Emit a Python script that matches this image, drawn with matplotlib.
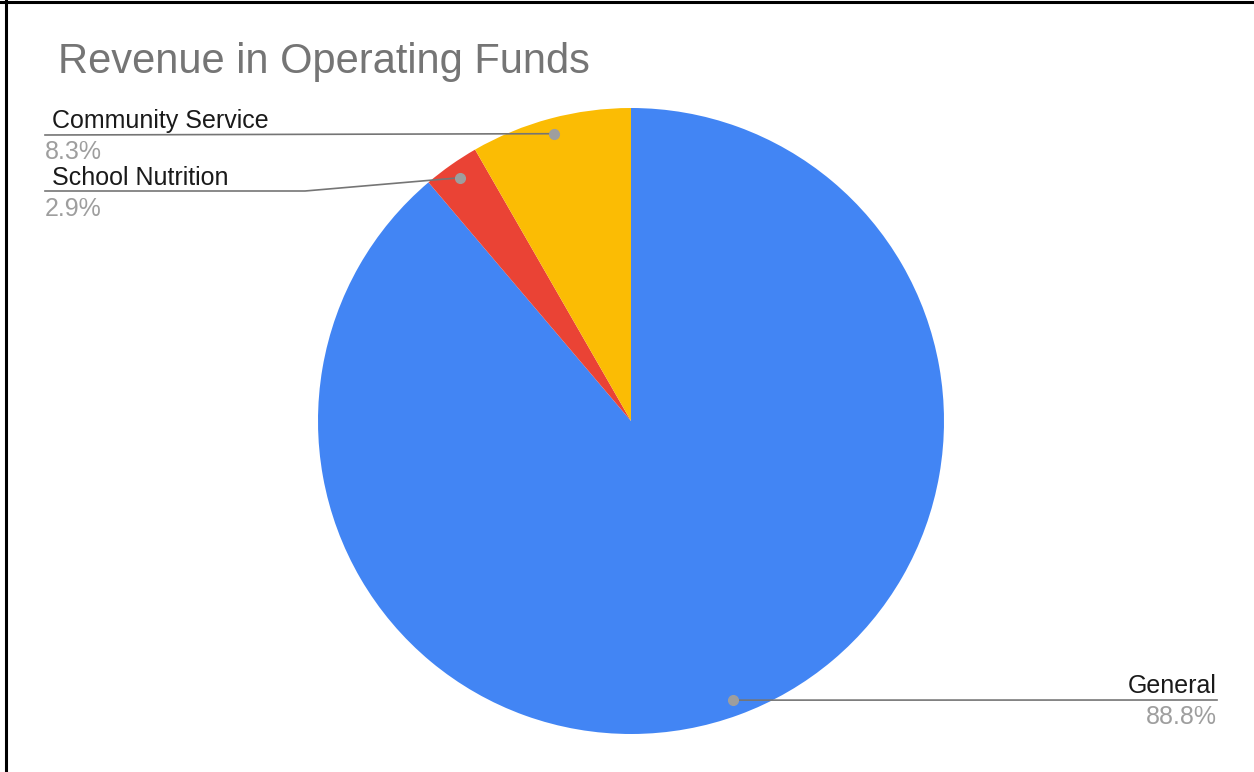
import numpy as np
import matplotlib
matplotlib.use('Agg')
import matplotlib.pyplot as plt
from matplotlib.lines import Line2D

# Operating fund revenue shares (percent)
funds = ['General', 'School Nutrition', 'Community Service']
shares = [88.8, 2.9, 8.3]
colors = ['#4285F4', '#EA4335', '#FBBC04']

W, H = 1254, 772
plt.rcParams['font.family'] = ['Liberation Sans', 'DejaVu Sans']

fig = plt.figure(figsize=(W / 100, H / 100), dpi=100)
ax = fig.add_axes([0, 0, 1, 1])
ax.set_xlim(0, W)
ax.set_ylim(0, H)
ax.axis('off')

def py(y):
    # pixel rows are counted from the top
    return H - y

cx, cy, r = 631, py(421), 313
ax.pie(shares, colors=colors, startangle=90, counterclock=False,
       center=(cx, cy), radius=r, frame=True,
       wedgeprops=dict(linewidth=0))
ax.set_xlim(0, W)
ax.set_ylim(0, H)
ax.axis('off')

# leader dot for each slice, at the middle angle of the wedge
total = sum(shares)
cum = np.cumsum([0] + shares)
dots = {}
for name, a, b in zip(funds, cum[:-1], cum[1:]):
    theta = np.deg2rad(90 - (a + b) / 2 / total * 360)
    dots[name] = (cx + 0.95 * r * np.cos(theta), cy + 0.95 * r * np.sin(theta))

line_kw = dict(color='#757575', lw=1.2, zorder=3)
dot_kw = dict(color='#9e9e9e', ms=7, marker='o', zorder=4)

# label layout: (text x, anchor, baseline of name, leader path after the dot)
layout = {
    'Community Service': (52, 45, 'left', 128, [(45, 135)]),
    'School Nutrition': (52, 45, 'left', 185, [(305, 191), (45, 191)]),
    'General': (1217, 1217, 'right', 693, [(1217, 700)]),
}
for name, share in zip(funds, shares):
    tx, px, ha, base, path = layout[name]
    dx, dy = dots[name]
    xs = [dx] + [p[0] for p in path]
    ys = [dy] + [py(p[1]) for p in path]
    ax.plot(xs, ys, **line_kw)
    ax.plot([dx], [dy], **dot_kw)
    ax.text(tx, py(base), name, ha=ha, va='baseline', fontsize=18, color='#1a1a1a')
    ax.text(px, py(base + 31), f'{share:.1f}%', ha=ha, va='baseline',
            fontsize=18, color='#9e9e9e')

ax.text(58, py(73), 'Revenue in Operating Funds', ha='left', va='baseline',
        fontsize=30, color='#757575')

# frame edges on the top and left side
fig.add_artist(Line2D([6 / W, 6 / W], [0, 1], color='black', lw=2.2,
                      transform=fig.transFigure))
fig.add_artist(Line2D([0, 1], [1 - 2 / H, 1 - 2 / H], color='black', lw=2.2,
                      transform=fig.transFigure))

fig.savefig('out.png', dpi=100)
